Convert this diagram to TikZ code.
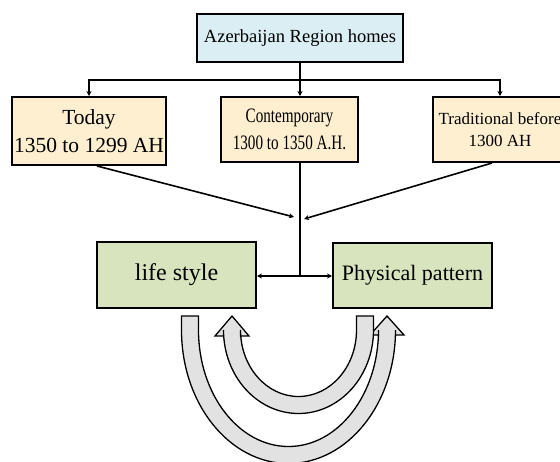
\documentclass[tikz,border=0pt]{standalone}
\usepackage{fontspec}
\setmainfont{Liberation Serif}
\usetikzlibrary{arrows.meta,calc}
\definecolor{topblue}{HTML}{DBEEF4}
\definecolor{cream}{HTML}{FDEFCF}
\definecolor{olive}{HTML}{D8E4BE}
\definecolor{arrowgray}{HTML}{E2E2E2}
\begin{document}
\begin{tikzpicture}[x=1pt,y=-1pt,
  box/.style={draw, line width=2pt, inner sep=0pt, align=center},
  conn/.style={line width=1.6pt},
  arr/.style={line width=1.6pt, -{Stealth[length=5pt,width=5pt]}},
  blockarrow/.style={draw, line width=1.3pt, fill=arrowgray, line join=miter}]
\useasboundingbox (0,0) rectangle (560,461);
% boxes
\node[box, fill=topblue, minimum width=206pt, minimum height=48pt,
  font=\fontsize{18.5}{22}\selectfont] (top) at (300,38) {Azerbaijan Region homes};
\node[box, fill=cream, minimum width=154pt, minimum height=68pt,
  font=\fontsize{21.5}{28}\selectfont] (today) at (89,131) {Today\\1350 to 1299 AH};
\node[box, fill=cream, minimum width=137pt, minimum height=65pt,
  font=\fontsize{20.5}{27}\selectfont] (cont) at (289.5,129.5)
  {\scalebox{0.74}[1]{Contemporary}\\\scalebox{0.74}[1]{1300 to 1350 A.H.}};
\node[box, fill=cream, minimum width=134pt, minimum height=65pt,
  font=\fontsize{17}{22}\selectfont] (trad) at (500,129.5) {Traditional before\\1300 AH};
\node[box, fill=olive, minimum width=159pt, minimum height=66pt,
  font=\fontsize{24}{28}\selectfont] (life) at (176.5,275) {life style};
\node[box, fill=olive, minimum width=159pt, minimum height=65pt,
  font=\fontsize{22}{26}\selectfont] (phys) at (412.5,275.5) {Physical pattern};
% connectors
\coordinate (bar) at (300,80);
\coordinate (meet) at (300,218);
\coordinate (split) at (300,276);
\draw[conn] (top.south -| bar) -- (bar);
\draw[arr] (bar) -| (today.north);
\draw[arr] (bar) -- (bar |- cont.north);
\draw[arr] (bar) -| (trad.north);
\draw[arr] ([xshift=8pt]today.south) -- ([xshift=-6pt,yshift=1pt]meet);
\draw[arr] ([xshift=-8pt]trad.south) -- ([xshift=4pt,yshift=-1pt]meet);
\draw[conn] (cont.south -| bar) -- (split);
\draw[arr] (split) -- (life.east |- split);
\draw[arr] (split) -- (phys.west |- split);
% curved block arrows
% outer: from life style (left tail) to physical pattern (right head)
\draw[blockarrow] (181.5,316) -- (181.5,330)
  arc[start angle=180, end angle=0, x radius=107, y radius=133.5]
  -- (395.5,335) -- (404,335) -- (387,316) -- (370,335) -- (378.5,335) -- (378.5,330)
  arc[start angle=0, end angle=180, x radius=90, y radius=116.5]
  -- (198.5,316) -- cycle;
% inner: from physical pattern (right tail) to life style (left head)
\draw[blockarrow] (373.5,316) -- (373.5,330)
  arc[start angle=0, end angle=180, x radius=75, y radius=83.5]
  -- (223.5,336) -- (215,336) -- (232,316) -- (249,336) -- (240.5,336) -- (240.5,330)
  arc[start angle=180, end angle=0, x radius=58, y radius=66.5]
  -- (356.5,316) -- cycle;
\end{tikzpicture}
\end{document}
